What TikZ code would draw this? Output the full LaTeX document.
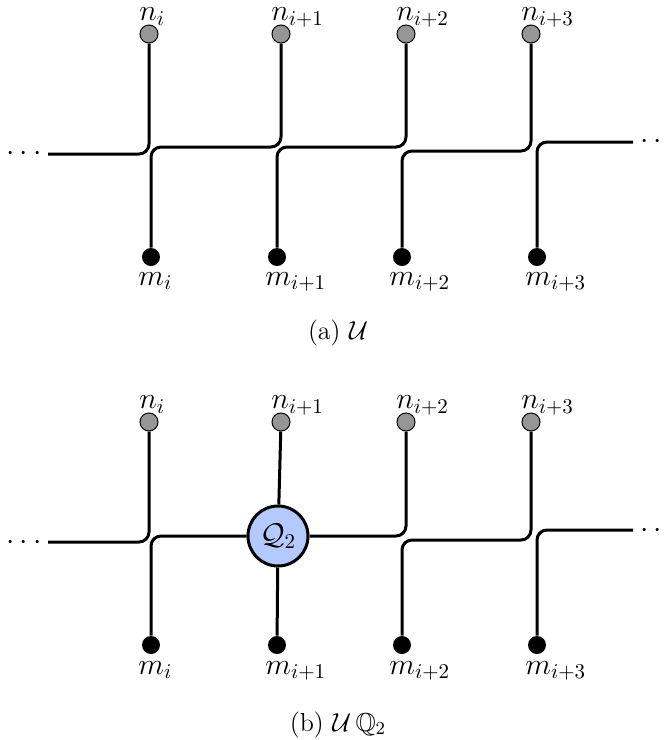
\RequirePackage{fix-cm}
\documentclass[tikz,border=0pt]{standalone}
\usepackage{amssymb}
\definecolor{qblue}{RGB}{180,202,255}
\definecolor{ngray}{RGB}{150,150,150}
\tikzset{
  wire/.style={line width=1.5pt, rounded corners=5pt},
  nnode/.style={circle, draw, line width=0.5pt, fill=ngray, minimum size=9pt, inner sep=0pt},
  mnode/.style={circle, fill=black, minimum size=9pt, inner sep=0pt},
  qnode/.style={circle, draw, line width=1.5pt, fill=qblue, minimum size=30pt, inner sep=0pt, font=\fontsize{15}{18}\selectfont},
  lab/.style={inner sep=0pt, anchor=base west, font=\fontsize{15}{18}\selectfont},
  dotsnode/.style={inner sep=0pt, anchor=base, font=\fontsize{15}{18}\selectfont},
  captext/.style={inner sep=0pt, anchor=base, font=\fontsize{13}{16}\selectfont}
}
\begin{document}
\begin{tikzpicture}[x=0.5pt, y=-0.5pt]
\useasboundingbox (0,0) rectangle (665,740);
% ---------- panel (a) ----------
\node[nnode] (n1) at (149,34) {};
\node[nnode] (n2) at (281,34) {};
\node[nnode] (n3) at (406,34) {};
\node[nnode] (n4) at (531,34) {};
\node[mnode] (m1) at (151,257) {};
\node[mnode] (m2) at (277,257) {};
\node[mnode] (m3) at (402,257) {};
\node[mnode] (m4) at (537,257) {};
\node[lab] (ln1) at (139,20.5) {$n_i$};
\node[lab] (ln2) at (271,20.5) {$n_{i+1}$};
\node[lab] (ln3) at (396,20.5) {$n_{i+2}$};
\node[lab] (ln4) at (521,20.5) {$n_{i+3}$};
\node[lab] (lm1) at (138,285) {$m_i$};
\node[lab] (lm2) at (265,285) {$m_{i+1}$};
\node[lab] (lm3) at (389,285) {$m_{i+2}$};
\node[lab] (lm4) at (525,285) {$m_{i+3}$};
\node[dotsnode] (dl) at (24,160.5) {$\cdots$};
\node[dotsnode] (dr) at (658,148.5) {$\cdots$};
\coordinate (a1) at (48,154);
\coordinate (h2) at (0,147);
\coordinate (h3) at (0,147);
\coordinate (h4) at (0,151);
\coordinate (a5) at (633,142);
\draw[wire] (a1) -- (a1 -| n1) -- (n1);
\draw[wire] (m1) -- (m1 |- h2) -- (h2 -| n2) -- (n2);
\draw[wire] (m2) -- (m2 |- h3) -- (h3 -| n3) -- (n3);
\draw[wire] (m3) -- (m3 |- h4) -- (h4 -| n4) -- (n4);
\draw[wire] (m4) -- (m4 |- a5) -- (a5);
\node[captext] (capa) at (338,339) {(a) $\mathcal{U}$};
% ---------- panel (b) ----------
\node[nnode] (p1) at (149,422) {};
\node[nnode] (p2) at (281,422) {};
\node[nnode] (p3) at (406,422) {};
\node[nnode] (p4) at (531,422) {};
\node[mnode] (q1) at (151,645) {};
\node[mnode] (q2) at (277,645) {};
\node[mnode] (q3) at (402,645) {};
\node[mnode] (q4) at (537,645) {};
\node[qnode] (Q) at (278,536) {$\mathcal{Q}_2$};
\node[lab] (lp1) at (139,408.5) {$n_i$};
\node[lab] (lp2) at (271,408.5) {$n_{i+1}$};
\node[lab] (lp3) at (396,408.5) {$n_{i+2}$};
\node[lab] (lp4) at (521,408.5) {$n_{i+3}$};
\node[lab] (lq1) at (138,674) {$m_i$};
\node[lab] (lq2) at (265,674) {$m_{i+1}$};
\node[lab] (lq3) at (389,674) {$m_{i+2}$};
\node[lab] (lq4) at (525,674) {$m_{i+3}$};
\node[dotsnode] (el) at (24,549.5) {$\cdots$};
\node[dotsnode] (er) at (658,537.5) {$\cdots$};
\coordinate (b1) at (48,542);
\coordinate (k4) at (0,540);
\coordinate (b5) at (633,530);
\draw[wire] (b1) -- (b1 -| p1) -- (p1);
\draw[wire] (q1) -- (q1 |- Q) -- (Q);
\draw[wire] (p2) -- (Q);
\draw[wire] (q2) -- (Q);
\draw[wire] (Q) -- (Q -| p3) -- (p3);
\draw[wire] (q3) -- (q3 |- k4) -- (k4 -| p4) -- (p4);
\draw[wire] (q4) -- (q4 |- b5) -- (b5);
\node[captext] (capb) at (338,731) {(b) $\mathcal{U}\,\mathbb{Q}_2$};
\end{tikzpicture}
\end{document}
